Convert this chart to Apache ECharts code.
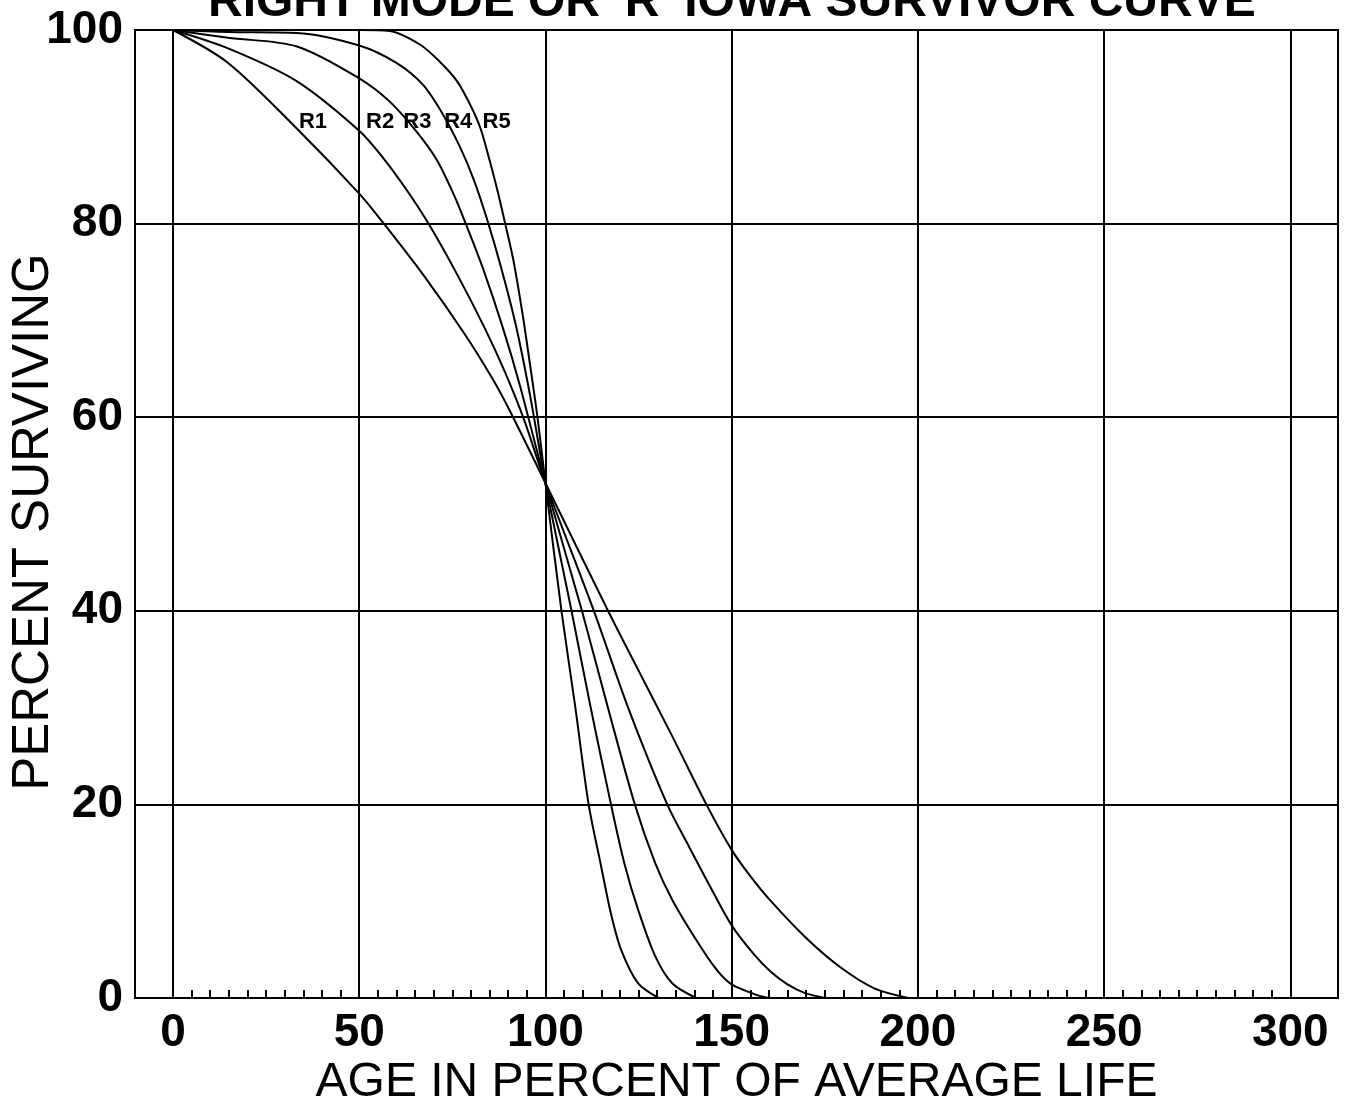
<!DOCTYPE html>
<html>
<head>
<meta charset="utf-8">
<script src="https://cdn.jsdelivr.net/npm/echarts@6/dist/echarts.min.js"></script>
<style>
html,body{margin:0;padding:0;background:#fff;}
#chart{width:1359px;height:1113px;}
</style>
</head>
<body>
<div id="chart"></div>
<script>
// ---- Data (age % of average life, percent surviving) ----
const seriesNames = ['R1', 'R2', 'R3', 'R4', 'R5'];
const r1 = [[0,100],[14.8,96.6],[33.3,89.8],[50,83.1],[56.2,80.2],[67.4,74.6],[78.3,68.6],[85.6,64.1],[90.4,60.7],[100,53.2],[116.8,40],[124.9,33.9],[134.1,27.0],[143.2,20],[150,15.3],[155,12.6],[160.8,9.9],[170,6.2],[179.1,3.2],[188.3,1.0],[197.5,0]];
const r2 = [[0,100],[14.8,98.1],[33.3,94.7],[50,89.6],[56.4,86.8],[62.7,83.5],[68.6,80],[76.5,74.6],[83.7,69.2],[89.2,64.6],[94.4,59.6],[100,53.2],[113,40],[122.2,30],[132.7,20],[138.6,15.6],[144.1,11.6],[150,7.5],[156,4.5],[160.5,2.7],[165,1.4],[169.7,0.5],[175.2,0]];
const r3 = [[0,100],[14.8,99.2],[33.3,98.3],[50,95.0],[58.2,92.6],[65.4,89.5],[70.8,86.6],[75.4,83.0],[78.6,80],[83.2,75.4],[88.6,69.2],[93.2,63.2],[100,53.2],[109.8,40],[116.7,30.1],[124,20],[129.5,13.9],[134.1,10.1],[140.5,6.0],[146,2.9],[150,1.4],[156.9,0.3],[160,0]];
const r4 = [[0,100],[14.8,99.8],[33.3,99.7],[50,98.4],[60,96.6],[67.2,94.3],[72.6,91.2],[77.2,87.8],[80.8,84.5],[84.2,80.6],[88,75.6],[92,69.6],[96,62.0],[100,53.2],[107,40],[112.1,30.1],[117.6,20],[121.2,13.9],[124.9,9.1],[129.5,4.3],[134.1,1.5],[140.5,0]];
const r5 = [[0,100],[50,100],[58.2,99.9],[66.3,98.5],[71.7,96.7],[76.3,94.7],[79.9,92.2],[82.6,89.8],[84.9,86.7],[87.2,83.3],[89.2,80],[91.4,76.2],[93.8,70.8],[95.8,65.6],[98,59.6],[100,53.2],[104.3,40],[108,30.1],[111.6,20],[114.8,13.9],[117.6,8.7],[120.3,5.0],[124.9,1.5],[130.4,0]];
const curves = [r1, r2, r3, r4, r5];

// curve name labels (positions in data units)
const labelX = [37.6, 55.6, 65.6, 76.6, 86.9];
const labelY = [90.5, 90.5, 90.5, 90.5, 90.5];

// axis ticks / labels
const xLabelValues = [0, 50, 100, 150, 200, 250, 300];
const xMinorStep = 5;

const titleText = "RIGHT MODE OR 'R' IOWA SURVIVOR CURVE";
const xName = 'AGE IN PERCENT OF AVERAGE LIFE';
const yName = 'PERCENT SURVIVING';

// ---- Build options ----
const minorTickValues = [];
for (let v = 0; v <= 300; v += xMinorStep) minorTickValues.push(v);

const FONT = "'Liberation Sans', Arial, Helvetica, sans-serif";

const lineSeries = curves.map((d, i) => ({
  name: seriesNames[i],
  type: 'line',
  data: d,
  showSymbol: false,
  smooth: 0.3,
  lineStyle: { color: '#000', width: 2 },
  silent: true,
  z: 3
}));

const gridLineSeries = {
  type: 'line',
  data: [],
  silent: true,
  markLine: {
    silent: true,
    symbol: ['none', 'none'],
    label: { show: false },
    lineStyle: { color: '#000', width: 2, type: 'solid' },
    data: xLabelValues.map(v => ({ xAxis: v }))
  }
};

const labelSeries = {
  type: 'scatter',
  symbolSize: 0,
  silent: true,
  itemStyle: { opacity: 1, color: '#000' },
  data: seriesNames.map((n, i) => ({ value: [labelX[i], labelY[i]], name: n })),
  label: {
    show: true,
    position: 'inside',
    formatter: p => p.name,
    color: '#000',
    opacity: 1,
    fontFamily: FONT,
    fontWeight: 'bold',
    fontSize: 22
  },
  z: 5
};

const option = {
  animation: false,
  backgroundColor: '#fff',
  title: {
    text: titleText,
    left: 208,
    top: -21,
    padding: 0,
    textStyle: { fontFamily: FONT, fontSize: 48, fontWeight: 'bold', color: '#000' }
  },
  grid: {
    left: 135, right: 21, top: 30, bottom: 115,
    show: true, borderColor: '#000', borderWidth: 2,
    containLabel: false, outerBoundsMode: 'none'
  },
  xAxis: {
    type: 'value',
    min: -10.2,
    max: 312.8,
    name: xName,
    nameLocation: 'middle',
    nameGap: 61,
    nameMoveOverlap: false,
    nameTextStyle: { fontFamily: FONT, fontSize: 48, color: '#000' },
    axisLine: { show: true, onZero: false, lineStyle: { color: '#000', width: 2 } },
    axisTick: { show: true, inside: true, length: 8, customValues: minorTickValues, lineStyle: { color: '#000', width: 2 } },
    axisLabel: { customValues: xLabelValues, margin: 12, fontFamily: FONT, fontSize: 46, fontWeight: 'bold', color: '#000', hideOverlap: false },
    splitLine: { show: false }
  },
  yAxis: {
    type: 'value',
    min: 0,
    max: 100,
    interval: 20,
    name: yName,
    nameLocation: 'middle',
    nameGap: 76,
    nameMoveOverlap: false,
    nameTextStyle: { fontFamily: FONT, fontSize: 51, color: '#000', padding: [0, 16, 0, 0] },
    axisLine: { show: true, lineStyle: { color: '#000', width: 2 } },
    axisTick: { show: false },
    axisLabel: { margin: 12, fontFamily: FONT, fontSize: 46, fontWeight: 'bold', color: '#000' },
    splitLine: { show: true, lineStyle: { color: '#000', width: 2 } }
  },
  series: [gridLineSeries, ...lineSeries, labelSeries]
};

const chart = echarts.init(document.getElementById('chart'), null, { renderer: 'canvas' });
chart.setOption(option);
</script>
</body>
</html>
